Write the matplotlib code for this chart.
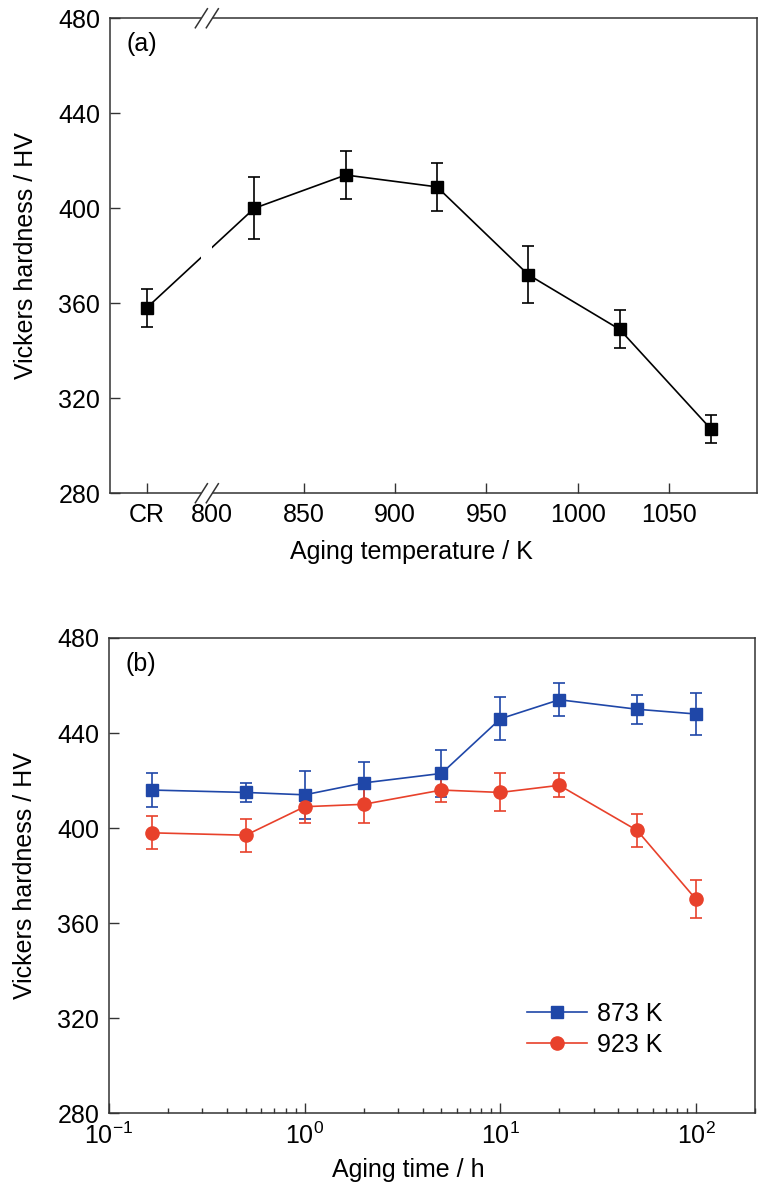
import numpy as np
import matplotlib
matplotlib.use("Agg")
from matplotlib import pyplot as plt
from matplotlib.ticker import LogLocator, NullFormatter

plt.rcParams['font.family'] = ['Liberation Sans', 'DejaVu Sans']
plt.rcParams['mathtext.fontset'] = 'custom'
plt.rcParams['mathtext.rm'] = 'Liberation Sans'
plt.rcParams['mathtext.it'] = 'Liberation Sans'

# (a) hardness vs aging temperature, CR = cold rolled
temp_pos = [764, 823, 873, 923, 973, 1023, 1073]
hv_temp = [358, 400, 414, 409, 372, 349, 307]
hv_temp_err = [8, 13, 10, 10, 12, 8, 6]
a_ticks = [764, 800, 850, 900, 950, 1000, 1050]
a_ticklabels = ['CR', '800', '850', '900', '950', '1000', '1050']
break_x = [794, 800]

# (b) hardness vs aging time
time_h = [1/6, 0.5, 1, 2, 5, 10, 20, 50, 100]
hv_873 = [416, 415, 414, 419, 423, 446, 454, 450, 448]
err_873 = [7, 4, 10, 9, 10, 9, 7, 6, 9]
hv_923 = [398, 397, 409, 410, 416, 415, 418, 399, 370]
err_923 = [7, 7, 7, 8, 5, 8, 5, 7, 8]

blue = '#1f47a8'
red = '#e8412b'
spine_c = '#333333'
fs = 18

fig = plt.figure(figsize=(7.7, 11.94), dpi=100)
ax1 = fig.add_axes([0.1429, 0.5869, 0.8398, 0.3978])
ax2 = fig.add_axes([0.1416, 0.0676, 0.8389, 0.3981])

for ax in (ax1, ax2):
    for s in ax.spines.values():
        s.set_color(spine_c)
        s.set_linewidth(1.1)
    ax.tick_params(which='both', direction='in', top=False, right=False,
                   labelsize=fs, color=spine_c, width=1.0)
    ax.tick_params(which='major', length=7)
    ax.tick_params(which='minor', length=3.5)
    ax.tick_params(axis='y', pad=7)
    ax.tick_params(axis='x', pad=7)
    ax.set_ylim(280, 480)
    ax.set_yticks([280, 320, 360, 400, 440, 480])
    ax.set_ylabel('Vickers hardness / HV', fontsize=fs, va='center')
    ax.yaxis.set_label_coords(-0.13, 0.5)

# panel (a)
ax1.errorbar(temp_pos, hv_temp, yerr=hv_temp_err, color='black', lw=1.2,
             marker='s', ms=8.5, capsize=4.5, elinewidth=1.2, capthick=1.2, zorder=3)
ax1.set_xlim(744, 1098)
ax1.set_xticks(a_ticks)
ax1.set_xticklabels(a_ticklabels)
ax1.xaxis.get_major_ticks()[1].tick1line.set_visible(False)
ax1.set_xlabel('Aging temperature / K', fontsize=fs, va='center')
ax1.xaxis.set_label_coords(0.466, -0.1236)
ax1.text(0.025, 0.945, '(a)', transform=ax1.transAxes, fontsize=fs, va='center')

# axis break
trans = ax1.get_xaxis_transform()
ax1.axvspan(break_x[0], break_x[1], ymin=-0.01, ymax=1.01, color='white',
            zorder=4, clip_on=False, lw=0)
for yb in (0, 1):
    for xb in break_x:
        ax1.plot([xb - 3.3, xb + 3.3], [yb - 0.02, yb + 0.02], transform=trans,
                 color=spine_c, lw=1.1, clip_on=False, zorder=5)

# panel (b)
ax2.errorbar(time_h, hv_873, yerr=err_873, color=blue, lw=1.2, marker='s', ms=8.5,
             capsize=4.5, elinewidth=1.2, capthick=1.2, label='873 K', zorder=3)
ax2.errorbar(time_h, hv_923, yerr=err_923, color=red, lw=1.2, marker='o', ms=9.5,
             capsize=4.5, elinewidth=1.2, capthick=1.2, label='923 K', zorder=3)
ax2.set_xscale('log')
ax2.set_xlim(0.1, 200)
ax2.xaxis.set_minor_locator(LogLocator(base=10, subs=np.arange(2, 10)))
ax2.xaxis.set_minor_formatter(NullFormatter())
ax2.set_xlabel('Aging time / h', fontsize=fs, va='center')
ax2.xaxis.set_label_coords(0.464, -0.119)
ax2.text(0.025, 0.945, '(b)', transform=ax2.transAxes, fontsize=fs, va='center')

h, l = ax2.get_legend_handles_labels()
h = [x[0] for x in h]
ax2.legend(h, l, loc='upper left', bbox_to_anchor=(0.612, 0.282), frameon=False,
           fontsize=fs, handlelength=2.4, handletextpad=0.4, labelspacing=0.3)

fig.savefig('out.png', dpi=100)
